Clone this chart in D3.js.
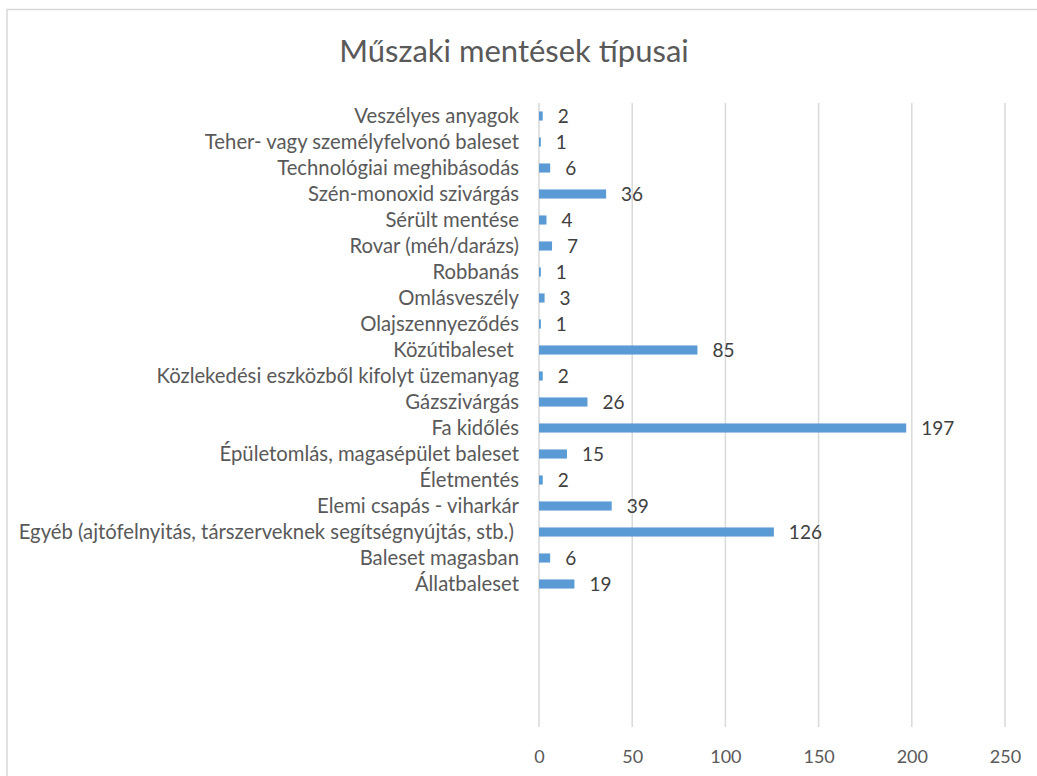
<!DOCTYPE html>
<html>
<head>
<meta charset="utf-8">
<script src="https://cdn.jsdelivr.net/npm/d3@7"></script>
<style>
  body { margin: 0; background: #fff; }
  text { font-family: Lato, "Open Sans", sans-serif; }
</style>
</head>
<body>
<div id="vis"></div>
<script>
// categories top to bottom, as they show in the chart
var categories = [
  "Veszélyes anyagok",
  "Teher- vagy személyfelvonó baleset",
  "Technológiai meghibásodás",
  "Szén-monoxid szivárgás",
  "Sérült mentése",
  "Rovar (méh/darázs)",
  "Robbanás",
  "Omlásveszély",
  "Olajszennyeződés",
  "Közútibaleset ",
  "Közlekedési eszközből kifolyt üzemanyag",
  "Gázszivárgás",
  "Fa kidőlés",
  "Épületomlás, magasépület baleset",
  "Életmentés",
  "Elemi csapás - viharkár",
  "Egyéb (ajtófelnyitás, társzerveknek segítségnyújtás, stb.) ",
  "Baleset magasban",
  "Állatbaleset"
];
var values = [2, 1, 6, 36, 4, 7, 1, 3, 1, 85, 2, 26, 197, 15, 2, 39, 126, 6, 19];
var emptyRows = 5; // blank categories at the bottom of the source sheet
var xTicks = [0, 50, 100, 150, 200, 250];

var width = 1037;
var height = 776;

var svg = d3.select("#vis")
            .append("svg")
            .attr("width", width)
            .attr("height", height);

// chart border
svg.append("rect")
   .attr("x", 7)
   .attr("y", 9.5)
   .attr("width", width + 20)
   .attr("height", height + 20)
   .attr("fill", "#fff")
   .attr("stroke", "#d9d9d9")
   .attr("stroke-width", 1.5);

svg.append("text")
   .attr("x", 514)
   .attr("y", 62)
   .attr("text-anchor", "middle")
   .attr("fill", "#595959")
   .style("font-size", "31px")
   .text("Műszaki mentések típusai");

var x = d3.scaleLinear()
          .domain([0, 250])
          .range([539, 1005]);

var rows = d3.range(categories.length + emptyRows);
var y = d3.scaleBand()
          .domain(rows)
          .range([103, 727])
          .paddingInner(0.65)
          .paddingOuter(0.325);

// vertical gridlines
svg.append("g")
   .selectAll("line")
   .data(xTicks)
   .join("line")
   .attr("x1", d => x(d))
   .attr("x2", d => x(d))
   .attr("y1", 103)
   .attr("y2", 727)
   .attr("stroke", "#d9d9d9")
   .attr("stroke-width", 1.5);

// bottom axis labels, no axis line
var xAxis = d3.axisBottom(x)
              .tickValues(xTicks)
              .tickSize(0)
              .tickPadding(0);

var gx = svg.append("g")
            .attr("transform", "translate(0, 750)")
            .call(xAxis);
gx.select(".domain").remove();
gx.selectAll("text")
  .attr("fill", "#595959")
  .style("font-size", "18px")
  .style("font-family", "Lato, 'Open Sans', sans-serif");

// category labels
svg.append("g")
   .selectAll("text")
   .data(categories)
   .join("text")
   .attr("x", 519)
   .attr("y", (d, i) => y(i) + y.bandwidth() / 2)
   .attr("dy", "0.35em")
   .attr("text-anchor", "end")
   .attr("fill", "#595959")
   .style("font-size", "20.3px")
   .style("white-space", "pre")
   .text(d => d);

// bars
svg.append("g")
   .selectAll("rect")
   .data(values)
   .join("rect")
   .attr("x", x(0))
   .attr("y", (d, i) => y(i))
   .attr("width", d => x(d) - x(0))
   .attr("height", y.bandwidth())
   .attr("fill", "#5b9bd5");

// value labels
svg.append("g")
   .selectAll("text")
   .data(values)
   .join("text")
   .attr("x", d => x(d) + 15)
   .attr("y", (d, i) => y(i) + y.bandwidth() / 2)
   .attr("dy", "0.35em")
   .attr("fill", "#404040")
   .style("font-size", "19px")
   .text(d => d);
</script>
</body>
</html>
